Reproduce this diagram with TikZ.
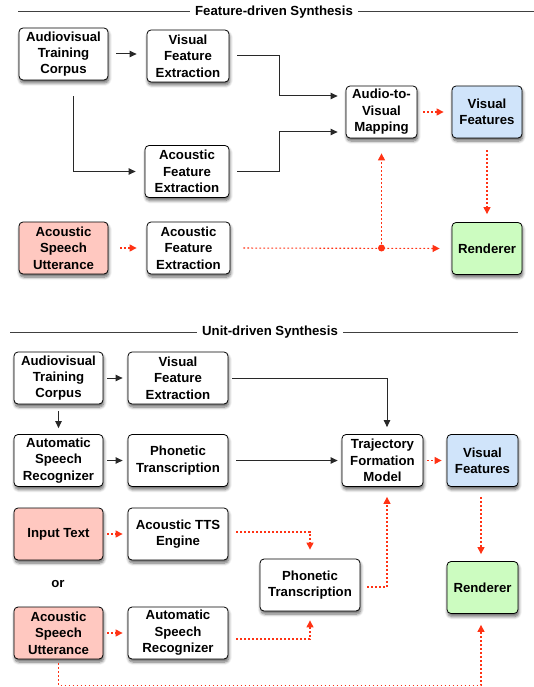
\documentclass[tikz,border=0pt]{standalone}
\usepackage{fontspec}
\setmainfont{Liberation Sans}
\usetikzlibrary{arrows.meta,shadows,shadows.blur,calc}
\definecolor{pinkfill}{RGB}{255,200,192}
\definecolor{bluefill}{RGB}{208,228,250}
\definecolor{greenfill}{RGB}{204,252,192}
\definecolor{redline}{RGB}{255,50,20}
\definecolor{darkline}{RGB}{40,40,40}
\tikzset{
  box/.style={draw=black, line width=0.8pt, rounded corners=4pt, fill=white,
    align=center, inner sep=0pt, minimum height=52pt,
    font=\fontsize{13.2}{16.4}\selectfont\bfseries,
    blur shadow={shadow xshift=0.8pt, shadow yshift=-3pt, shadow blur radius=3pt, shadow blur steps=6, shadow opacity=60}},
  pinkbox/.style={box, fill=pinkfill},
  bluebox/.style={box, fill=bluefill},
  greenbox/.style={box, fill=greenfill},
  conn/.style={draw=darkline, line width=1pt, -{Triangle[length=7pt,width=6.5pt]}, shorten <=8pt, shorten >=8pt},
  rconn/.style={draw=redline, line width=1.1pt, dash pattern=on 1.7pt off 2.3pt, -{Triangle[length=7pt,width=7pt]}, shorten <=8pt, shorten >=8pt},
  ttl/.style={font=\fontsize{13.2}{16}\selectfont\bfseries, inner xsep=5pt, inner ysep=0pt},
  titleline/.style={line width=1pt, draw=black!75},
  plain/.style={font=\fontsize{13.2}{16}\selectfont\bfseries, inner sep=0pt}
}
\begin{document}
\begin{tikzpicture}[x=1pt,y=1pt]
\useasboundingbox (0,0) rectangle (534,-687);
% ---------- Feature-driven ----------
\node[ttl] (t1) at (274,-12) {Feature-driven Synthesis};
\coordinate (t1l) at (18,-12);
\coordinate (t1r) at (534,-12);
\draw[titleline] (t1l) -- (t1.west);
\draw[titleline] (t1.east) -- (t1r);

\node[box, minimum width=89pt] (avtc) at (63.5,-54) {Audiovisual\\Training\\Corpus};
\node[box, minimum width=82pt] (vfe) at (188,-56) {Visual\\Feature\\Extraction};
\node[box, minimum width=71pt] (atvm) at (381.5,-112) {Audio-to-\\Visual\\Mapping};
\node[bluebox, minimum width=70pt] (visf) at (487,-112) {Visual\\Features};
\node[box, minimum width=84pt] (afe) at (187,-171.5) {Acoustic\\Feature\\Extraction};
\node[pinkbox, minimum width=89pt] (asu) at (63.5,-248) {Acoustic\\Speech\\Utterance};
\node[box, minimum width=83pt] (afe2) at (188.5,-248) {Acoustic\\Feature\\Extraction};
\node[greenbox, minimum width=70pt] (rend) at (487,-248.5) {Renderer};

\draw[conn, shorten >=10pt] (avtc.east) -- (avtc.east -| vfe.west);
\draw[conn] (vfe.east) -- ++(50,0) |- ([yshift=16pt]atvm.west);
\draw[conn] (afe.east) -- ++(50,0) |- ([yshift=-20pt]atvm.west);
\draw[conn, shorten <=16pt, shorten >=9pt] ([xshift=9.5pt]avtc.south) |- (afe.west);
\draw[rconn, shorten <=6pt] (atvm.east) -- (visf.west);
\draw[rconn, shorten <=12pt] (visf.south) -- (rend.north);
\draw[rconn, shorten <=12pt, shorten >=10pt] (asu.east) -- (afe2.west);
\coordinate (jd) at (atvm.south |- afe2.east);
\draw[rconn, shorten <=13pt, shorten >=12pt] (afe2.east) -- (rend.west);
\draw[rconn, shorten <=0pt, shorten >=15pt] (jd) -- (atvm.south);
\fill[redline] (jd) circle (3.5pt);

% ---------- Unit-driven ----------
\node[ttl] (t2) at (270,-332) {Unit-driven Synthesis};
\coordinate (t2l) at (10,-332);
\coordinate (t2r) at (518,-332);
\draw[titleline] (t2l) -- (t2.west);
\draw[titleline] (t2.east) -- (t2r);

\node[box, minimum width=89pt] (avtc2) at (58.5,-378) {Audiovisual\\Training\\Corpus};
\node[box, minimum width=100pt] (vfe2) at (178,-378) {Visual\\Feature\\Extraction};
\node[box, minimum width=89pt] (asr) at (58.5,-460.5) {Automatic\\Speech\\Recognizer};
\node[box, minimum width=100pt] (pt) at (178,-460.5) {Phonetic\\Transcription};
\node[box, minimum width=81pt] (tfm) at (382.5,-460.5) {Trajectory\\Formation\\Model};
\node[bluebox, minimum width=71pt] (visf2) at (482.5,-460.5) {Visual\\Features};
\node[pinkbox, minimum width=89pt] (it) at (58.5,-534) {Input Text};
\node[box, minimum width=100pt] (atts) at (178,-534) {Acoustic TTS\\Engine};
\node[plain] (or) at (58,-584) {or};
\node[pinkbox, minimum width=89pt] (asu2) at (58.5,-633) {Acoustic\\Speech\\Utterance};
\node[box, minimum width=100pt] (asr2) at (178,-633) {Automatic\\Speech\\Recognizer};
\node[box, minimum width=100pt] (pt2) at (310,-585) {Phonetic\\Transcription};
\node[greenbox, minimum width=71pt] (rend2) at (482.5,-587.5) {Renderer};

\draw[conn, shorten <=4pt, shorten >=5pt] (avtc2.east) -- (avtc2.east -| vfe2.west);
\draw[conn, shorten <=7pt, shorten >=6pt] (avtc2.south) -- (asr.north);
\draw[conn, shorten <=4pt, shorten >=5pt] (asr.east) -- (asr.east -| pt.west);
\draw[conn, shorten <=8pt, shorten >=4pt] (pt.east) -- (tfm.west);
\draw[conn, shorten <=4pt, shorten >=7pt] (vfe2.east) -| ([xshift=4.5pt]tfm.north);
\draw[rconn, shorten <=4pt, shorten >=5pt] (tfm.east) -- (visf2.west);
\draw[rconn, shorten <=10pt, shorten >=7pt] ([xshift=-1.5pt]visf2.south) -- ([xshift=-1.5pt]rend2.north);
\draw[rconn, shorten <=4pt, shorten >=5pt] (it.east) -- (atts.west);
\draw[rconn, shorten <=4pt, shorten >=5pt] (asu2.east) -- (asr2.west);
\draw[rconn, shorten >=9pt] ([yshift=2pt]atts.east) -| (pt2.north);
\draw[rconn, shorten >=9pt] ([yshift=-6pt]asr2.east) -| (pt2.south);
\draw[rconn, shorten <=7pt, shorten >=10pt] ([yshift=-2pt]pt2.east) -| ([xshift=4.5pt]tfm.south);
\draw[rconn, shorten <=4pt, shorten >=11pt] (asu2.south) -- ++(0,-26) -| ([xshift=-1.5pt]rend2.south);
\end{tikzpicture}
\end{document}
